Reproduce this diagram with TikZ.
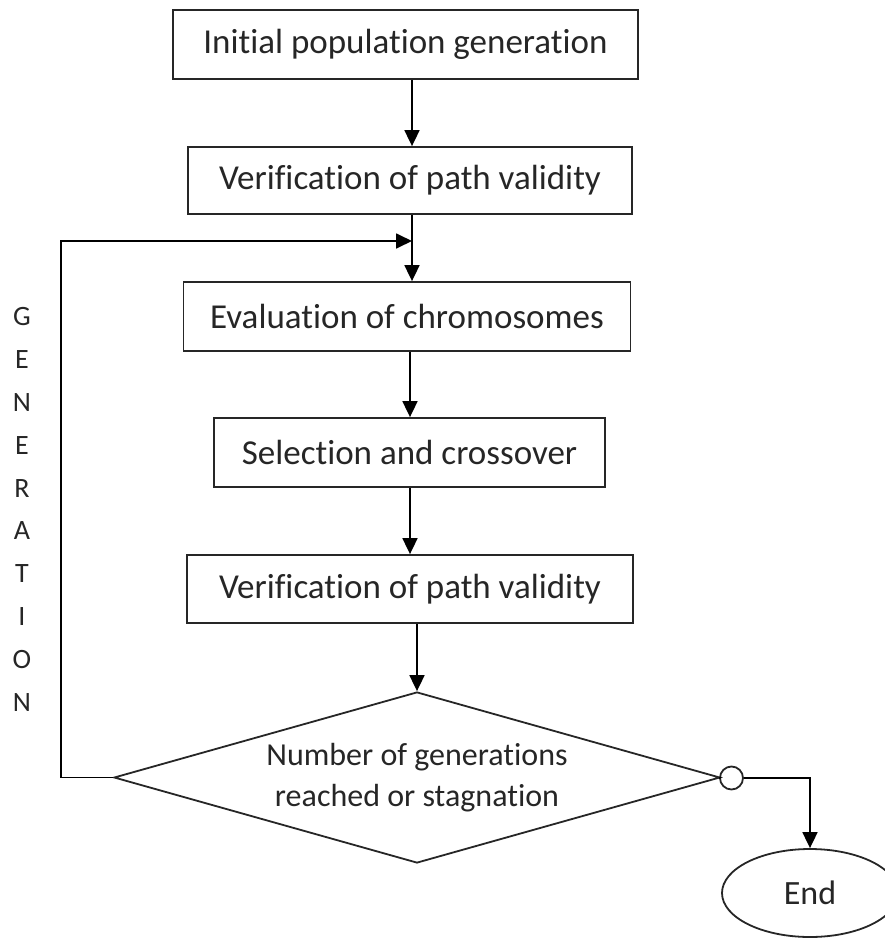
\documentclass[tikz,border=0pt]{standalone}
\usepackage{fontspec}
\setmainfont{Carlito}[Ligatures=NoCommon]
\usetikzlibrary{shapes.geometric,arrows.meta}
\begin{document}
\begin{tikzpicture}[x=1pt,y=-1pt,
  line width=1.8pt,
  stepbox/.style={draw=black!85, rectangle, inner sep=0pt, font=\fontsize{35}{40}\selectfont, text=black!85},
  arr/.style={-{Triangle[width=15pt,length=16pt]}},
  lbl/.style={font=\fontsize{28}{30}\selectfont, text=black!85, inner sep=0pt}
]
\useasboundingbox (0,0) rectangle (885,938);
\coordinate (axis) at (412,0);

\node[stepbox, minimum width=465pt, minimum height=69pt] (b1) at (405.5,44.5) {Initial population generation};
\node[stepbox, minimum width=444pt, minimum height=67pt] (b2) at (410,180.5) {Verification of path validity};
\node[stepbox, minimum width=447pt, minimum height=69pt] (b3) at (407,316.5) {Evaluation of chromosomes};
\node[stepbox, minimum width=391pt, minimum height=69pt] (b4) at (409.5,452.5) {Selection and crossover};
\node[stepbox, minimum width=446pt, minimum height=68pt] (b5) at (410,589) {Verification of path validity};

% decision: outline drawn as an empty diamond, its text set on top
\node[draw=black!85, diamond, inner sep=0pt, minimum width=606pt, minimum height=171pt] (dec) at (417,777.5) {};
\node[font=\fontsize{32}{41}\selectfont, text=black!85, align=center, inner sep=0pt] (dectxt) at (417,778)
      {Number of generations\\reached or stagnation};
\node[draw=black!85, circle, inner sep=0pt, minimum size=23pt] (jn) at (731.5,778) {};
\node[draw=black!85, ellipse, inner sep=0pt, minimum width=176pt, minimum height=88pt,
      font=\fontsize{34}{38}\selectfont, text=black!85] (fin) at (810,893) {End};

% main flow
\draw[arr] (b1.south -| axis) -- (b2.north -| axis);
\draw[arr] (b2.south -| axis) -- (b3.north -| axis);
\draw[arr] (b3.south -| 410,0) -- (b4.north -| 410,0);
\draw[arr] (b4.south -| 410,0) -- (b5.north -| 410,0);
\draw[arr] (b5.south -| dec.north) -- (dec.north);

% feedback loop for the next generation
\coordinate (lc) at (61,241);
\draw[arr] (dec.west) -- (dec.west -| lc) -- (lc) -- (lc -| axis);

% exit branch
\draw (dec.east) -- (jn.west);
\draw[arr] (jn.east) -| (fin.north);

% vertical label along the loop
\foreach \ch [count=\i from 0] in {G,E,N,E,R,A,T,I,O,N}
  \node[lbl] (g\i) at (22,{317+42.8*\i}) {\ch};
\end{tikzpicture}
\end{document}
